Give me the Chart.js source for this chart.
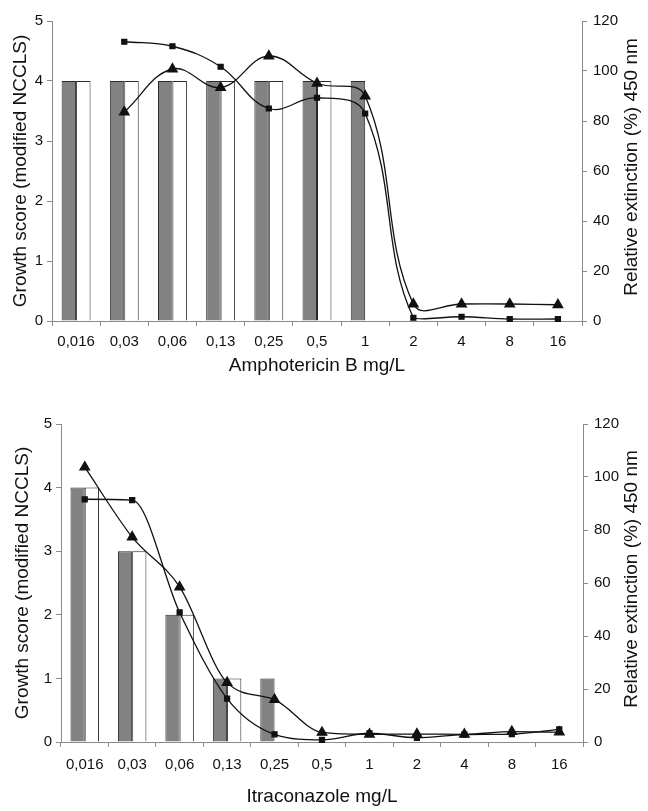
<!DOCTYPE html>
<html lang="en">
<head>
  <meta charset="UTF-8" />
  <title>Growth score vs relative extinction</title>
  <script src="https://cdn.jsdelivr.net/npm/chart.js"></script>
  <style>
    body { margin: 0; padding: 0; background: #fff; }
    .panel { position: absolute; left: 0; width: 648px; }
    #top { top: 0; height: 400px; }
    #bottom { top: 400px; height: 411px; }
  </style>
</head>
<body>

  <div class="panel" id="top"><canvas id="chartA" width="648" height="400"></canvas></div>
  <div class="panel" id="bottom"><canvas id="chartB" width="648" height="411"></canvas></div>

  <script>
    // concentrations, same for both panels
    const concentrations = ["0,016", "0,03", "0,06", "0,13", "0,25", "0,5", "1", "2", "4", "8", "16"];

    // Amphotericin B
    const ampGrayBars  = [4, 4, 4, 4, 4, 4, 4, 0, 0, 0, 0];
    const ampWhiteBars = [4, 4, 4, 4, 4, 4, 0, 0, 0, 0, 0];
    const ampSquares   = [null, 111.7, 109.9, 101.7, 85, 89.3, 83, 1.3, 1.7, 0.8, 0.8];
    const ampTriangles = [null, 83.6, 100.8, 93.4, 106, 95.1, 90, 6.8, 6.8, 6.8, 6.5];

    // Itraconazole
    const itrGrayBars  = [4, 3, 2, 1, 1, 0, 0, 0, 0, 0, 0];
    const itrWhiteBars = [4, 3, 2, 1, 0, 0, 0, 0, 0, 0, 0];
    const itrSquares   = [91.6, 91.3, 48.9, 16.4, 2.9, 0.8, 3.3, 1.6, 2.8, 3, 4.8];
    const itrTriangles = [103.7, 77.3, 58.5, 22.4, 16, 3.6, 2.9, 3, 2.9, 3.9, 3.7];

    const scoreTicks = [0, 1, 2, 3, 4, 5];
    const extinctionTicks = [0, 20, 40, 60, 80, 100, 120];

    const FONT = "'Liberation Sans', Arial, sans-serif";
    const axisGray = '#8a8a8a';

    // right-hand title reads bottom to top, like the left one
    const rightTitle = {
      id: 'rightTitle',
      afterDraw(chart, args, opts) {
        const { ctx, chartArea } = chart;
        ctx.save();
        ctx.translate(opts.x, (chartArea.top + chartArea.bottom) / 2 - 4);
        ctx.rotate(-Math.PI / 2);
        ctx.font = '19px ' + FONT;
        ctx.fillStyle = '#111';
        ctx.textAlign = 'center';
        ctx.textBaseline = 'middle';
        ctx.fillText(opts.text, 0, 0);
        ctx.restore();
      }
    };

    function makeChart(id, cfg) {
      const lineSet = (data, style, radius) => ({
        type: 'line',
        data: data,
        yAxisID: 'y1',
        borderColor: '#111',
        borderWidth: 1.3,
        pointStyle: style,
        pointRadius: radius,
        pointBackgroundColor: '#111',
        pointBorderColor: '#111',
        tension: cfg.tension,
        cubicInterpolationMode: cfg.interp,
        clip: { left: 5, top: 5, right: 5, bottom: 20 },
        order: 0
      });
      const barSet = (data, fill) => ({
        type: 'bar',
        data: data,
        yAxisID: 'y',
        backgroundColor: fill,
        borderColor: '#2a2a2a',
        borderWidth: 1,
        categoryPercentage: 0.6,
        barPercentage: 1.0,
        order: 1
      });

      new Chart(document.getElementById(id), {
        data: {
          labels: concentrations,
          datasets: [
            barSet(cfg.gray, '#828282'),
            barSet(cfg.white, '#ffffff'),
            lineSet(cfg.squares, 'rect', 3.5),
            lineSet(cfg.triangles, 'triangle', 5.5)
          ]
        },
        plugins: [rightTitle],
        options: {
          responsive: false,
          animation: false,
          layout: { padding: { top: cfg.padTop, left: 0, right: 0, bottom: 0 } },
          plugins: {
            legend: { display: false },
            tooltip: { enabled: false },
            rightTitle: { text: 'Relative extinction (%) 450 nm', x: 632 }
          },
          scales: {
            x: {
              type: 'category',
              offset: true,
              grid: { display: true, drawOnChartArea: false, offset: true, tickLength: 5, color: axisGray },
              border: { color: axisGray, width: 1 },
              ticks: { color: '#111', font: { family: FONT, size: 15 }, padding: cfg.xTickPad, maxRotation: 0 },
              title: { display: true, text: cfg.xTitle, color: '#111', font: { family: FONT, size: 19 }, padding: { top: 0, bottom: cfg.xTitlePad } },
              afterFit: s => { s.height = cfg.xHeight; }
            },
            y: {
              position: 'left',
              min: 0, max: 5,
              afterBuildTicks: s => { s.ticks = scoreTicks.map(v => ({ value: v })); },
              grid: { display: true, drawOnChartArea: false, tickLength: 5, color: axisGray },
              border: { color: axisGray, width: 1 },
              ticks: { color: '#111', font: { family: FONT, size: 15 }, padding: 4 },
              title: { display: true, text: 'Growth score (modified NCCLS)', color: '#111', font: { family: FONT, size: 19 }, padding: { top: cfg.leftTitlePad, bottom: 0 } },
              afterFit: s => { s.width = cfg.leftWidth; }
            },
            y1: {
              position: 'right',
              min: 0, max: 120,
              afterBuildTicks: s => { s.ticks = extinctionTicks.map(v => ({ value: v })); },
              grid: { display: true, drawOnChartArea: false, tickLength: 5, color: axisGray },
              border: { color: axisGray, width: 1 },
              ticks: { color: '#111', font: { family: FONT, size: 15 }, padding: 6 },
              afterFit: s => { s.width = 648 - cfg.rightEdge; }
            }
          }
        }
      });
    }

    makeChart('chartA', {
      gray: ampGrayBars, white: ampWhiteBars, squares: ampSquares, triangles: ampTriangles,
      xTitle: 'Amphotericin B mg/L', tension: 0.4, interp: 'default',
      padTop: 21, xHeight: 79, xTickPad: 7, xTitlePad: 23,
      leftWidth: 52, rightEdge: 582, leftTitlePad: 9
    });

    makeChart('chartB', {
      gray: itrGrayBars, white: itrWhiteBars, squares: itrSquares, triangles: itrTriangles,
      xTitle: 'Itraconazole mg/L', tension: 0.2, interp: 'monotone',
      padTop: 24, xHeight: 69, xTickPad: 9, xTitlePad: 3,
      leftWidth: 61, rightEdge: 583, leftTitlePad: 11
    });
  </script>

</body>
</html>
